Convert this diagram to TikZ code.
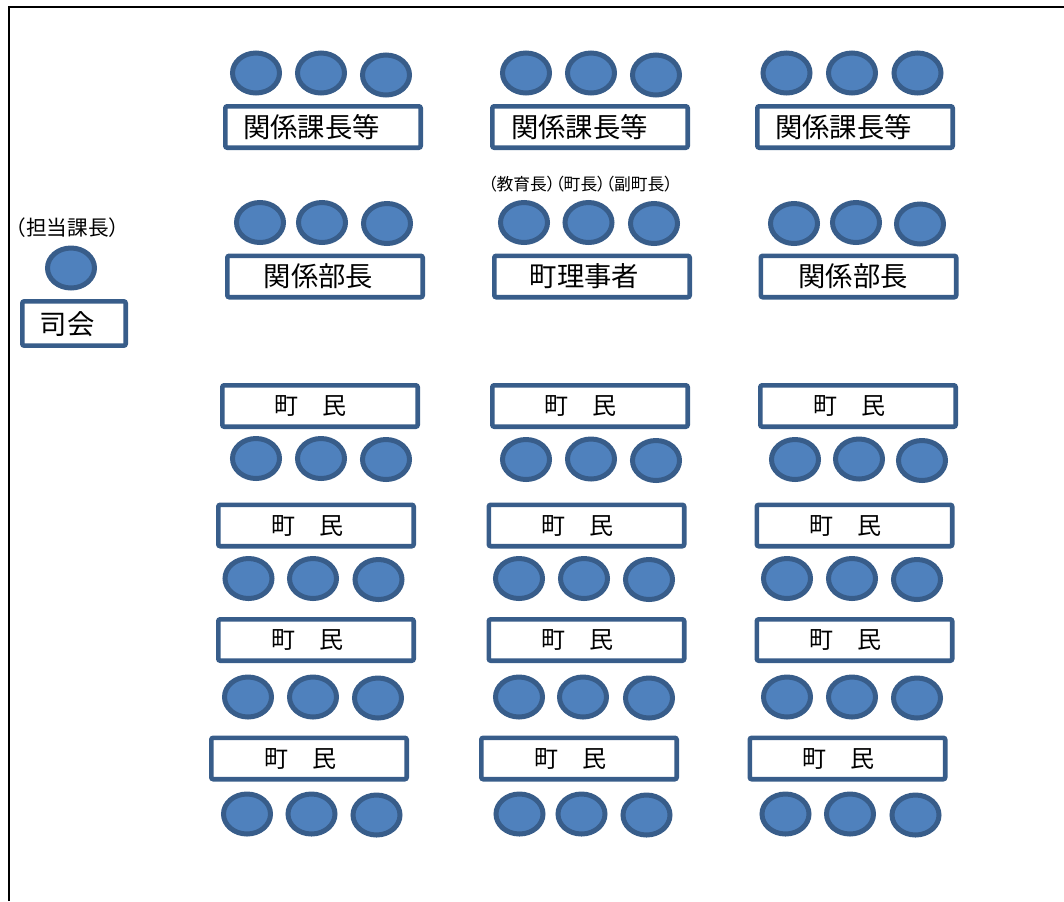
\documentclass[tikz,border=0pt]{standalone}
\usepackage{fontspec}
\setmainfont{Noto Sans CJK JP}
\newfontfamily\paltfont[RawFeature=+palt]{Noto Sans CJK JP}
\usetikzlibrary{shapes.geometric}
\definecolor{seatfill}{HTML}{4F81BD}
\definecolor{seatline}{HTML}{385D8A}
\tikzset{
  seat/.style={ellipse, draw=seatline, fill=seatfill, line width=3.75pt,
    minimum width=35.25pt, minimum height=30pt, inner sep=0pt},
  deskbox/.style={rectangle, draw=seatline, fill=white, line width=3.4pt,
    rounded corners=1.5pt, minimum width=146.6pt, minimum height=31.1pt, inner sep=0pt},
  bigtxt/.style={inner sep=0pt, font=\fontsize{20.5pt}{22pt}\selectfont},
  tmtxt/.style={inner sep=0pt, font=\fontsize{18pt}{20pt}\selectfont},
  smalltxt/.style={inner sep=0pt, font=\paltfont\fontsize{12.6pt}{14pt}\selectfont},
  midtxt/.style={inner sep=0pt, font=\fontsize{15.5pt}{17pt}\selectfont},
  frame/.style={line width=1.5pt, draw=black}
}
\begin{document}
\begin{tikzpicture}[x=0.75pt,y=-0.75pt]
\useasboundingbox (0,0) rectangle (1064,901);
% frame
\coordinate (fb) at (9,901);
\coordinate (fc) at (9,7);
\coordinate (fr) at (1064,7);
\draw[frame] (fb) -- (fc) -- (fr);

% ---- Row A: 関係課長等 ----
\foreach \n/\x/\y in {a1/256/73, a2/321/73, a3/386/75,
                       a4/526/73, a5/591/73, a6/656/75,
                       a7/786.5/73, a8/852/73, a9/917.5/73}
  \node[seat] (\n) at (\x,\y) {};
\node[deskbox] (bA1) at (323,127) {};
\node[deskbox] (bA2) at (590,127) {};
\node[deskbox] (bA3) at (855,127) {};
\node[bigtxt] (tA1) at (311.5,127) {関係課長等};
\node[bigtxt] (tA2) at (579.5,127) {関係課長等};
\node[bigtxt] (tA3) at (843.5,127) {関係課長等};

% ---- Row B ----
\node[smalltxt] (lbl) at (580.5,184) {（教育長）（町長）（副町長）};
\foreach \n/\x/\y in {b1/260/222.5, b2/322/222.5, b3/387/223.5,
                       b4/524/222.5, b5/588.5/222.5, b6/654/223.5,
                       b7/794/223.5, b8/856/222.5, b9/920/224}
  \node[seat] (\n) at (\x,\y) {};
\node[deskbox] (bB1) at (325,276.5) {};
\node[deskbox] (bB2) at (592,276.5) {};
\node[deskbox] (bB3) at (858.5,276.5) {};
\node[bigtxt] (tB1) at (318.5,276.5) {関係部長};
\node[bigtxt] (tB2) at (584.5,276.5) {町理事者};
\node[bigtxt] (tB3) at (853,276.5) {関係部長};

% ---- 司会 ----
\node[midtxt] (lblS) at (67.5,228) {（担当課長）};
\node[seat] (s0) at (71,268) {};
\node[rectangle, draw=seatline, fill=white, line width=3.4pt, rounded corners=1.5pt,
      minimum width=77.6pt, minimum height=33.3pt, inner sep=0pt] (bS) at (74,323.5) {};
\node[bigtxt] (tS) at (67,324.5) {司会};

% ---- 町民 rows ----
% row 1
\node[deskbox] (b11) at (320,406) {};
\node[deskbox] (b12) at (590,406) {};
\node[deskbox] (b13) at (858,406) {};
\node[tmtxt] (t11) at (310.5,406) {町　民};
\node[tmtxt] (t12) at (580.5,406) {町　民};
\node[tmtxt] (t13) at (849.5,406) {町　民};
\foreach \n/\x/\y in {c11/256/458.5, c12/321/458.5, c13/386/459.5,
                       c14/526/459.5, c15/591/459, c16/656/460.5,
                       c17/795/459.5, c18/859/459, c19/922/460.5}
  \node[seat] (\n) at (\x,\y) {};
% row 2
\node[deskbox] (b21) at (316,525.5) {};
\node[deskbox] (b22) at (586.5,525.5) {};
\node[deskbox] (b23) at (854.5,525.5) {};
\node[tmtxt] (t21) at (307.5,525.5) {町　民};
\node[tmtxt] (t22) at (577,525.5) {町　民};
\node[tmtxt] (t23) at (845,525.5) {町　民};
\foreach \n/\x/\y in {c21/248.5/578.5, c22/313/578.5, c23/378.5/579.5,
                       c24/519/578.5, c25/584/578.5, c26/649/579.5,
                       c27/787/578.5, c28/852/578.5, c29/917/579.5}
  \node[seat] (\n) at (\x,\y) {};
% row 3
\node[deskbox] (b31) at (316,640) {};
\node[deskbox] (b32) at (586.5,640) {};
\node[deskbox] (b33) at (854.5,640) {};
\node[tmtxt] (t31) at (307,640) {町　民};
\node[tmtxt] (t32) at (577,640) {町　民};
\node[tmtxt] (t33) at (845,640) {町　民};
\foreach \n/\x/\y in {c31/248/697, c32/313/697, c33/378/698,
                       c34/519/697, c35/583/697, c36/649/698,
                       c37/787/697, c38/852/697, c39/917/698}
  \node[seat] (\n) at (\x,\y) {};
% row 4
\node[deskbox] (b41) at (309,758.5) {};
\node[deskbox] (b42) at (579,758.5) {};
\node[deskbox] (b43) at (847.5,758.5) {};
\node[tmtxt] (t41) at (300,758.5) {町　民};
\node[tmtxt] (t42) at (570,758.5) {町　民};
\node[tmtxt] (t43) at (838,758.5) {町　民};
\foreach \n/\x/\y in {c41/247/814, c42/311.5/814, c43/376.5/815,
                       c44/519.5/814, c45/581.5/814, c46/646.5/815,
                       c47/785.5/814, c48/850/814, c49/915.5/815}
  \node[seat] (\n) at (\x,\y) {};
\end{tikzpicture}
\end{document}
